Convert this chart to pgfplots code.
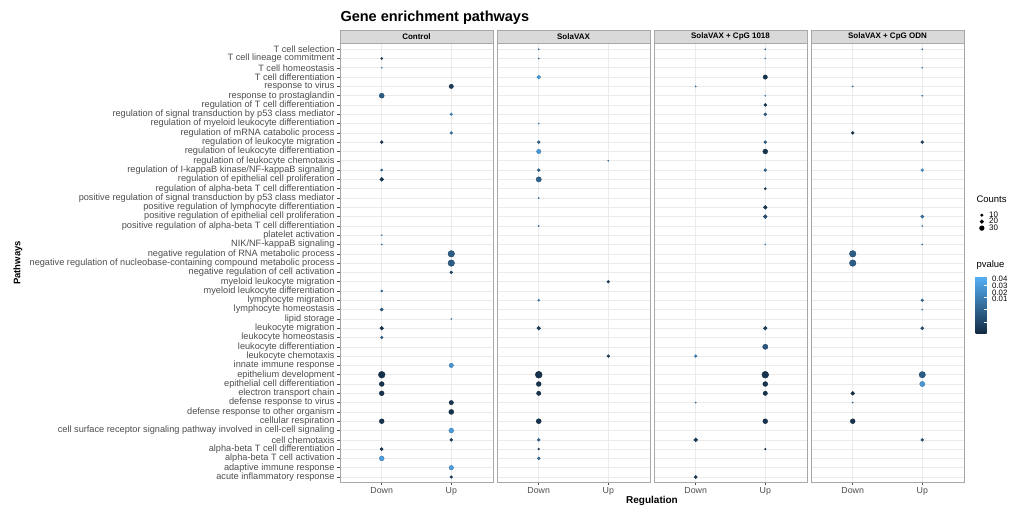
\documentclass[border=0pt]{standalone}
\usepackage{pgfplots}
\usepackage{pgfplotstable}
\pgfplotsset{compat=1.18}
\usepackage{fontspec}
\setmainfont{Liberation Sans}
\definecolor{tickgray}{HTML}{4D4D4D}
\definecolor{gridgray}{HTML}{EBEBEB}
\definecolor{bordergray}{HTML}{A8A8A8}
\definecolor{stripgray}{HTML}{D9D9D9}

\pgfplotstableread{
x r n p
1 2 7 0.010
1 3 2 0.040
1 6 34 0.018
1 11 12 0.005
1 14 7 0.025
1 15 20 0.005
1 21 2 0.040
1 22 2 0.030
1 27 7 0.025
1 29 14 0.020
1 31 20 0.005
1 32 10 0.022
1 36 60 0.003
1 37 32 0.004
1 38 32 0.004
1 41 32 0.004
1 44 14 0.005
1 45 32 0.040
2 5 26 0.007
2 8 10 0.035
2 10 10 0.028
2 23 58 0.018
2 24 58 0.018
2 25 12 0.012
2 30 2 0.040
2 35 26 0.037
2 39 26 0.005
2 40 34 0.004
2 42 32 0.040
2 43 12 0.006
2 46 28 0.040
2 47 10 0.008
}\controltab

\pgfplotstableread{
x r n p
1 1 2 0.030
1 2 2 0.030
1 4 20 0.040
1 9 2 0.040
1 11 12 0.020
1 12 26 0.038
1 14 12 0.020
1 15 37 0.020
1 17 2 0.030
1 20 2 0.030
1 28 7 0.035
1 31 20 0.008
1 36 64 0.003
1 37 32 0.004
1 38 26 0.004
1 41 34 0.004
1 43 12 0.022
1 44 4 0.008
1 45 12 0.025
2 13 2 0.030
2 26 10 0.008
2 34 10 0.008
}\solatab

\pgfplotstableread{
x r n p
2 1 2 0.030
2 2 2 0.040
2 4 26 0.004
2 6 2 0.040
2 7 12 0.006
2 8 12 0.018
2 11 12 0.020
2 12 32 0.004
2 14 12 0.022
2 16 7 0.008
2 18 20 0.005
2 19 20 0.014
2 22 2 0.040
2 31 20 0.008
2 33 37 0.016
2 36 62 0.004
2 37 32 0.004
2 38 26 0.004
2 41 32 0.004
2 44 4 0.008
1 5 2 0.030
1 34 10 0.035
1 39 2 0.030
1 43 20 0.006
1 47 14 0.006
}\cpgtab

\pgfplotstableread{
x r n p
2 1 2 0.030
2 3 2 0.040
2 6 2 0.030
2 11 12 0.010
2 14 12 0.038
2 19 14 0.025
2 20 2 0.040
2 22 2 0.030
2 28 10 0.025
2 29 2 0.040
2 31 14 0.015
2 36 55 0.018
2 37 37 0.038
2 43 12 0.018
1 5 2 0.030
1 10 12 0.005
1 23 58 0.018
1 24 58 0.018
1 38 20 0.004
1 39 2 0.030
1 41 32 0.004
}\odntab

\tikzset{
  strip/.style={fill=stripgray, draw=bordergray, line width=0.6pt,
    minimum width=153pt, minimum height=13pt, anchor=south, inner sep=0pt,
    font=\bfseries\fontsize{8}{8}\selectfont},
}
\pgfplotsset{
  panel/.style={
    scale only axis, width=153pt, height=439pt,
    xmin=0.4, xmax=2.6, ymin=0.4, ymax=47.6, y dir=reverse,
    xtick={1,2}, xticklabels={Down,Up},
    ytick={1,...,47},
    grid=major, major grid style={draw=gridgray, line width=0.6pt},
    axis line style={draw=bordergray, line width=0.6pt},
    tick style={draw=tickgray, line width=0.5pt}, major tick length=2.5pt,
    tick align=outside, xtick pos=bottom, ytick pos=left,
    colormap={pv}{rgb255=(19,43,67) rgb255=(86,177,247)},
    point meta min=0.001, point meta max=0.047,
    ticklabel style={font=\fontsize{8.8}{9}\selectfont, text=tickgray},
    yticklabel style={font=\fontsize{9.2}{9.2}\selectfont},
    xticklabel style={yshift=1pt},
    clip=false,
  },
  dots/.style={scatter, only marks, mark=*, scatter src=explicit,
    visualization depends on={0.43*sqrt(\thisrow{n}) \as \ms},
    scatter/@pre marker code/.append style={/tikz/mark size=\ms},
  },
}

\begin{document}
\begin{tikzpicture}
\begin{axis}[panel, at={(340pt,23.4pt)}, anchor=south west,
  yticklabels={T cell selection, T cell lineage commitment, T cell homeostasis, T cell differentiation, response to virus, response to prostaglandin, regulation of T cell differentiation, regulation of signal transduction by p53 class mediator, regulation of myeloid leukocyte differentiation, regulation of mRNA catabolic process, regulation of leukocyte migration, regulation of leukocyte differentiation, regulation of leukocyte chemotaxis, regulation of I-kappaB kinase/NF-kappaB signaling, regulation of epithelial cell proliferation, regulation of alpha-beta T cell differentiation, positive regulation of signal transduction by p53 class mediator, positive regulation of lymphocyte differentiation, positive regulation of epithelial cell proliferation, positive regulation of alpha-beta T cell differentiation, platelet activation, NIK/NF-kappaB signaling, negative regulation of RNA metabolic process, negative regulation of nucleobase-containing compound metabolic process, negative regulation of cell activation, myeloid leukocyte migration, myeloid leukocyte differentiation, lymphocyte migration, lymphocyte homeostasis, lipid storage, leukocyte migration, leukocyte homeostasis, leukocyte differentiation, leukocyte chemotaxis, innate immune response, epithelium development, epithelial cell differentiation, electron transport chain, defense response to virus, defense response to other organism, cellular respiration, cell surface receptor signaling pathway involved in cell-cell signaling, cell chemotaxis, alpha-beta T cell differentiation, alpha-beta T cell activation, adaptive immune response, acute inflammatory response},
  yticklabel style={xshift=0.5pt}]
\addplot[dots] table[x=x, y=r, meta=p] {\controltab};
\node[strip] at (axis description cs:0.5,1) {Control};
\end{axis}

\begin{axis}[panel, at={(497pt,23.4pt)}, anchor=south west,
  yticklabel=\empty, ytick style={draw=none}]
\addplot[dots] table[x=x, y=r, meta=p] {\solatab};
\node[strip] at (axis description cs:0.5,1) {SolaVAX};
\end{axis}

\begin{axis}[panel, at={(654pt,23.4pt)}, anchor=south west,
  yticklabel=\empty, ytick style={draw=none}]
\addplot[dots] table[x=x, y=r, meta=p] {\cpgtab};
\node[strip] at (axis description cs:0.5,1) {SolaVAX + CpG 1018};
\end{axis}

\begin{axis}[panel, at={(811pt,23.4pt)}, anchor=south west,
  yticklabel=\empty, ytick style={draw=none},
  legend style={at={(axis description cs:1.1,0.62)}, anchor=north west, draw=none, fill=none,
    font=\fontsize{8}{8}\selectfont, row sep=-2.6pt, inner sep=0pt,
    nodes={inner sep=1pt},
    /tikz/every odd column/.append style={column sep=4pt}},
  legend cell align=left,
  legend entries={10,20,30},
  colorbar,
  colorbar style={at={(parent axis.north east)}, anchor=north west,
    xshift=3pt, yshift=-232.6pt, width=11pt, height=57pt, scale only axis,
    ytick={0.01,0.02,0.03,0.04}, ytick pos=right, yticklabel=\empty,
    scaled y ticks=false,
    tick style={draw=white, line width=0.6pt}, major tick length=2.5pt, tick align=inside,
    axis line style={draw=none}, grid=none},
  ]
\addlegendimage{only marks, mark=*, black, mark size=1.36pt}
\addlegendimage{only marks, mark=*, black, mark size=1.92pt}
\addlegendimage{only marks, mark=*, black, mark size=2.36pt}
\addplot[dots, forget plot] table[x=x, y=r, meta=p] {\odntab};
\node[strip] at (axis description cs:0.5,1) {SolaVAX + CpG ODN};
\end{axis}

\node[anchor=west, font=\bfseries\fontsize{14.5}{15}\selectfont] at (337pt,488pt) {Gene enrichment pathways};
\node[rotate=90, font=\bfseries\fontsize{9.5}{10}\selectfont] at (18pt,243pt) {Pathways};
\node[font=\bfseries\fontsize{10}{10}\selectfont] at (652pt,5pt) {Regulation};
\node[anchor=west, font=\fontsize{9.5}{10}\selectfont] at (973pt,307pt) {Counts};
\node[anchor=west, font=\fontsize{9.5}{10}\selectfont] at (973pt,241pt) {pvalue};
\begin{scope}[every node/.style={anchor=west, inner sep=0pt, font=\fontsize{7.8}{7.8}\selectfont}]
\node at (992pt,227pt) {0.04};
\node at (992pt,220.3pt) {0.03};
\node at (992pt,213.6pt) {0.02};
\node at (992pt,207pt) {0.01};
\end{scope}
\pgfresetboundingbox
\path (0pt,0pt) rectangle (1012pt,506pt);
\end{tikzpicture}
\end{document}
